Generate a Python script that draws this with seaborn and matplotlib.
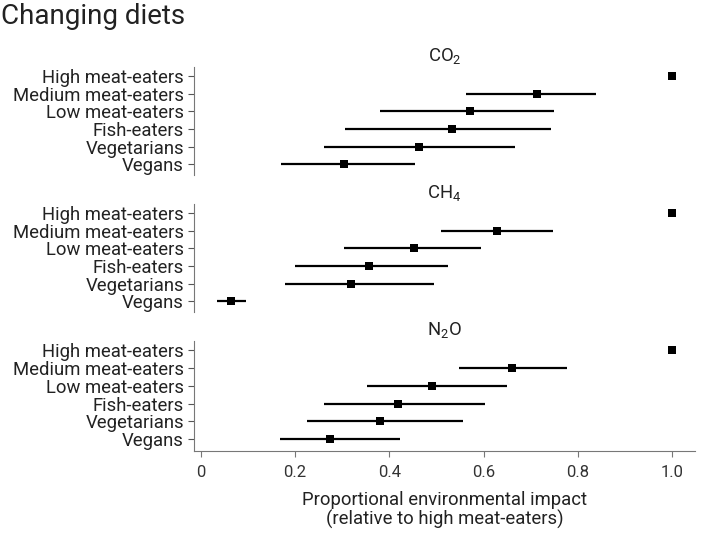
import numpy as np
import pandas as pd
import matplotlib.pyplot as plt
import seaborn as sns

diets = ["High meat-eaters", "Medium meat-eaters", "Low meat-eaters",
         "Fish-eaters", "Vegetarians", "Vegans"]
gases = ["CO$_2$", "CH$_4$", "N$_2$O"]

co2_mid = [1.0, 0.714, 0.571, 0.532, 0.463, 0.303]
co2_lo = [1.0, 0.563, 0.379, 0.305, 0.262, 0.170]
co2_hi = [1.0, 0.838, 0.749, 0.743, 0.666, 0.455]

ch4_mid = [1.0, 0.628, 0.452, 0.356, 0.319, 0.065]
ch4_lo = [1.0, 0.510, 0.303, 0.199, 0.179, 0.035]
ch4_hi = [1.0, 0.746, 0.594, 0.525, 0.494, 0.096]

n2o_mid = [1.0, 0.660, 0.491, 0.418, 0.379, 0.274]
n2o_lo = [1.0, 0.548, 0.352, 0.262, 0.225, 0.167]
n2o_hi = [1.0, 0.776, 0.649, 0.603, 0.556, 0.423]

x_ticks = [0, 0.2, 0.4, 0.6, 0.8, 1.0]
x_ticklabels = ["0", "0.2", "0.4", "0.6", "0.8", "1.0"]


def main():
    sns.set_style("ticks")
    plt.rcParams["font.family"] = ["Roboto", "DejaVu Sans"]
    plt.rcParams["mathtext.default"] = "regular"

    frames = []
    for gas, mid, lo, hi in zip(gases, [co2_mid, ch4_mid, n2o_mid],
                                [co2_lo, ch4_lo, n2o_lo], [co2_hi, ch4_hi, n2o_hi]):
        frames.append(pd.DataFrame({"gas": gas, "diet": diets, "pos": np.arange(len(diets)),
                                    "mid": mid, "lo": lo, "hi": hi}))
    df = pd.concat(frames, ignore_index=True)

    fig = plt.figure(figsize=(7.07, 5.36), dpi=100)
    fig.text(0.002, 0.995, "Changing diets", fontsize=20, ha="left", va="top", color="#222222")

    # axes placement in figure fraction (bottom, height)
    boxes = [(0.6735, 0.2015), (0.418, 0.2015), (0.1586, 0.2052)]
    left, width = 0.274, 0.709
    tc = "#222222"

    for i, gas in enumerate(gases):
        ax = fig.add_axes([left, boxes[i][0], width, boxes[i][1]])
        sub = df[df["gas"] == gas]
        ax.hlines(sub["pos"], sub["lo"], sub["hi"], color="black", lw=1.6, zorder=2)
        sns.scatterplot(data=sub, x="mid", y="pos", marker="s", s=40, color="black",
                        edgecolor="black", linewidth=0, ax=ax, zorder=3, legend=False)
        ax.set_xlim(-0.015, 1.048)
        ax.set_ylim(5.65 if i == 2 else 5.6, -0.5)
        ax.set_yticks(np.arange(len(diets)))
        ax.set_yticklabels(diets, fontsize=13.3, color=tc)
        ax.set_ylabel("")
        ax.set_title(gas, fontsize=13.3, color=tc, pad=4)
        ax.tick_params(axis="y", length=4, width=0.8, color="#555555", pad=3)
        for s in ["top", "right"]:
            ax.spines[s].set_visible(False)
        ax.spines["left"].set_color("#777777")
        ax.spines["left"].set_linewidth(0.8)
        if i < 2:
            ax.spines["bottom"].set_visible(False)
            ax.set_xticks([])
            ax.set_xlabel("")
        else:
            ax.spines["bottom"].set_color("#777777")
            ax.spines["bottom"].set_linewidth(0.8)
            ax.set_xticks(x_ticks)
            ax.set_xticklabels(x_ticklabels, fontsize=12, color="#333333")
            ax.tick_params(axis="x", length=4, width=0.8, color="#777777", pad=6)
            ax.set_xlabel("Proportional environmental impact\n(relative to high meat-eaters)",
                          fontsize=13.3, color=tc, labelpad=8, linespacing=1.05)

    fig.savefig("out.png", dpi=100)


if __name__ == "__main__":
    main()
